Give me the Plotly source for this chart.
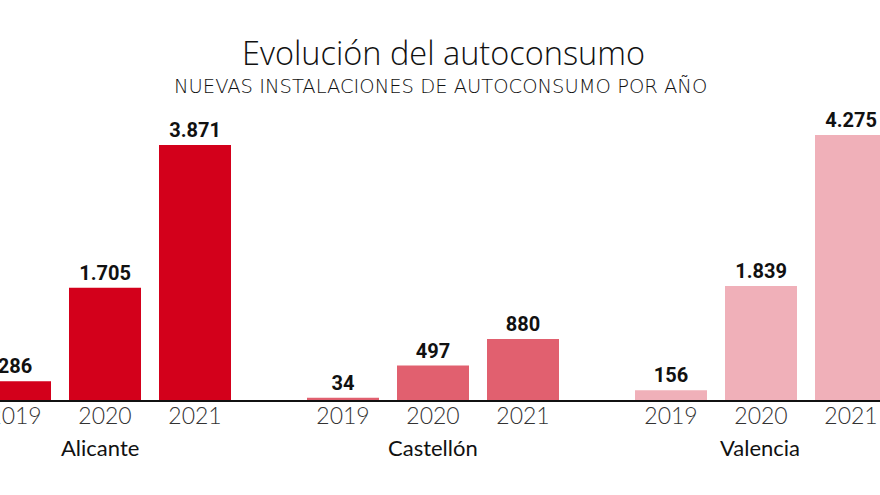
import plotly.graph_objects as go

years = ["2019", "2020", "2021"]
regions = ["Alicante", "Castellón", "Valencia"]
alicante = [286, 1705, 3871]
castellon = [34, 497, 880]
valencia = [156, 1839, 4275]
colors = ["#d3001b", "#e1606f", "#f0b0b9"]

W, H = 880, 495
def px(y):
    return 1 - y / H

series = [alicante, castellon, valencia]
fig = go.Figure()
for i, (vals, col) in enumerate(zip(series, colors)):
    sfx = "" if i == 0 else str(i + 1)
    fig.add_trace(go.Bar(
        x=years, y=vals, xaxis="x" + sfx, yaxis="y" + sfx,
        marker=dict(color=col, line=dict(width=0)),
        width=0.8,
        texttemplate="%{y:,}", textposition="outside", cliponaxis=False,
        textfont=dict(family="Roboto", size=20, color="#111", weight=700),
        hoverinfo="skip", showlegend=False,
    ))

ydom = [px(400), px(100)]
xdoms = [[0, 260 / W], [280 / W, 580 / W], [600 / W, 1]]
xranges = [[-0.1667, 2.7222], [-0.7, 2.6333], [-0.7889, 2.3222]]
yranges = [[0, 4552], [0, 4329], [0, 4839]]

layout = dict(
    width=W, height=H, margin=dict(l=0, r=0, t=0, b=0, autoexpand=False),
    paper_bgcolor="white", plot_bgcolor="rgba(0,0,0,0)",
    separators=",.", bargap=0.2,
)
for i in range(3):
    sfx = "" if i == 0 else str(i + 1)
    layout["xaxis" + sfx] = dict(
        domain=xdoms[i], range=xranges[i], type="category", anchor="y" + sfx,
        showgrid=False, zeroline=False, showline=False, ticks="",
        tickfont=dict(family="Lato", size=23, color="#333", weight=300),
        automargin=False, fixedrange=True,
    )
    layout["yaxis" + sfx] = dict(
        domain=ydom, range=yranges[i], anchor="x" + sfx, visible=False,
        fixedrange=True,
    )
fig.update_layout(**layout)

fig.add_shape(type="line", xref="paper", yref="paper", x0=0, x1=1,
              y0=px(401), y1=px(401), line=dict(color="#111", width=2))

centers = [100, 433, 760]
for name, cx in zip(regions, centers):
    fig.add_annotation(text=name, xref="paper", yref="paper", x=cx / W, y=px(447),
                       xanchor="center", yanchor="middle", showarrow=False,
                       font=dict(family="Lato", size=22, color="#111"))

fig.add_annotation(text="Evolución del autoconsumo", xref="paper", yref="paper",
                   x=443 / W, y=px(52), xanchor="center", yanchor="middle", showarrow=False,
                   font=dict(family="Open Sans", size=32.5, color="#111", weight=300))
fig.add_annotation(text="NUEVAS INSTALACIONES DE AUTOCONSUMO POR AÑO", xref="paper", yref="paper",
                   x=440 / W, y=px(86), xanchor="center", yanchor="middle", showarrow=False,
                   font=dict(family="DejaVu Sans", size=19.5, color="#111", weight=300))

fig.write_html("out.html")
